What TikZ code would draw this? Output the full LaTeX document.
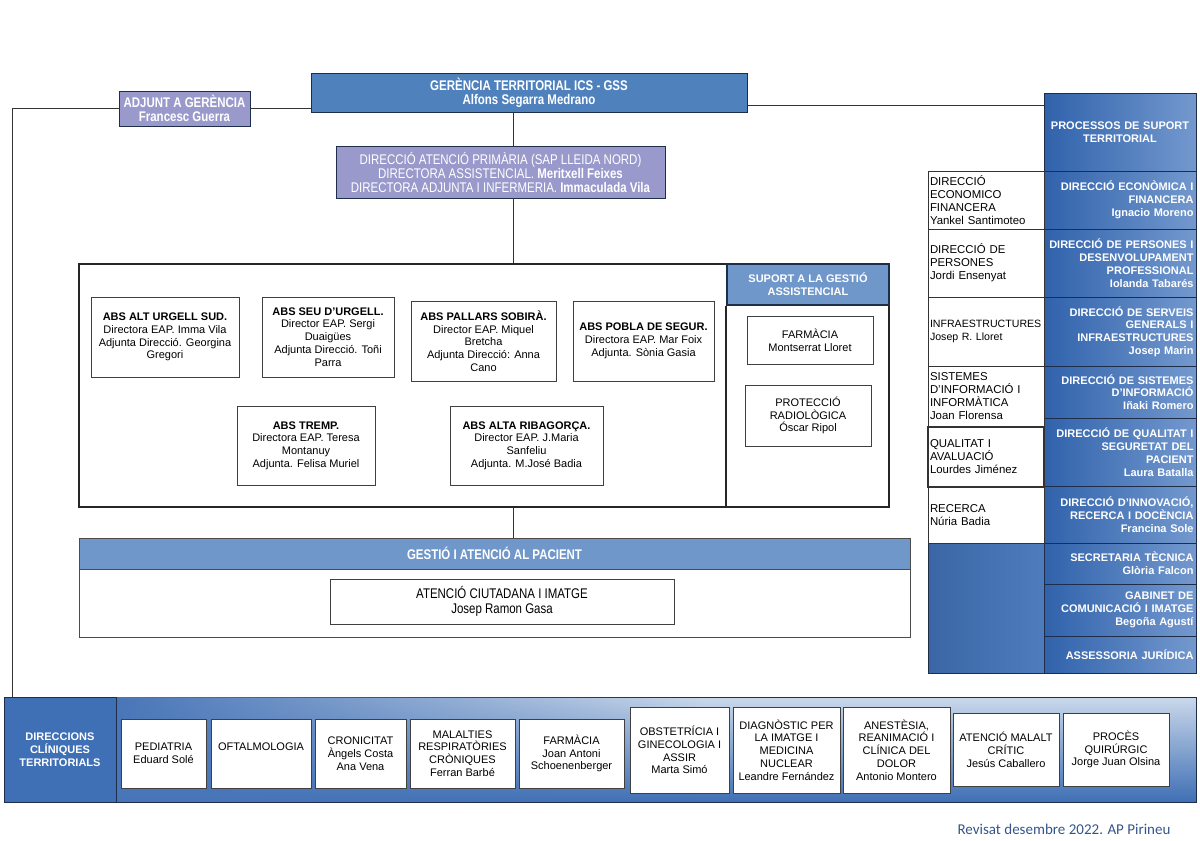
\documentclass[tikz,border=0pt]{standalone}
\usepackage{fontspec}
\setmainfont{Liberation Sans}
\newfontfamily\narrowfont[FakeStretch=0.82]{Liberation Sans}
\newfontfamily\footfont{Carlito}
\usetikzlibrary{fadings}
\definecolor{gerblue}{HTML}{4F81BD}
\definecolor{lilac}{HTML}{9999CC}
\definecolor{midblue}{HTML}{6F97CA}
\definecolor{navy}{HTML}{1E2D4A}
\definecolor{deepblue}{HTML}{3F6FB4}
\definecolor{colblue}{HTML}{3062AB}
\definecolor{sheen}{HTML}{7FA2D4}
\definecolor{bandtop}{HTML}{CAD8EB}
\definecolor{footblue}{HTML}{34558A}
\tikzset{
  head/.style={draw=navy,fill=gerblue,text=white,font=\narrowfont\bfseries\fontsize{14}{14}\selectfont},
  adjbox/.style={draw=navy,fill=lilac,text=white,font=\narrowfont\fontsize{14}{14}\selectfont},
  unit/.style={draw=black!75,fill=white,line width=0.7pt},
  tab/.style={draw=navy,fill=midblue,text=white,font=\bfseries\fontsize{11}{12.8}\selectfont},
  procrow/.style={draw=navy,text=white,align=right,text width=147pt,inner sep=2.5pt,minimum width=152pt,font=\bfseries\fontsize{11}{12.8}\selectfont},
  lcol/.style={draw=black!80,fill=white,align=left,text width=112pt,minimum width=116pt,font=\fontsize{11.4}{13}\selectfont},
  link/.style={draw=black!80,line width=0.8pt}
}

\begin{document}
\begin{tikzpicture}[x=1pt,y=-1pt,
  every node/.style={inner sep=2pt,align=center,font=\fontsize{11}{12.8}\selectfont}]
\useasboundingbox (0,0) rectangle (1200,841);

% top of the chart
\node (ger) at (529,92.5) [head,minimum width=436pt,minimum height=39pt] {GERÈNCIA TERRITORIAL ICS - GSS\\Alfons Segarra Medrano};
\node (adj) at (184.5,108.5) [adjbox,minimum width=131pt,minimum height=35pt] {\bfseries ADJUNT A GERÈNCIA\\\bfseries Francesc Guerra};
\node (dap) at (500.5,172) [adjbox,minimum width=329pt,minimum height=52pt] {DIRECCIÓ ATENCIÓ PRIMÀRIA (SAP LLEIDA NORD)\\
  DIRECTORA ASSISTENCIAL. \textbf{Meritxell Feixes}\\
  DIRECTORA ADJUNTA I INFERMERIA. \textbf{Immaculada Vila}};

% equips d'atencio primaria
\node (absarea) at (484,385.5) [draw=black!85,line width=1.6pt,minimum width=810pt,minimum height=243pt] {};
\node (sup) at (808,284.5) [tab,line width=1.6pt,minimum width=162pt,minimum height=41pt] {SUPORT A LA GESTIÓ\\ASSISTENCIAL};
\draw[line width=1.6pt,black!85] (sup.south west) -- (sup.south west |- absarea.south);
\node (alt) at (165,337) [unit,minimum width=148pt,minimum height=80pt] {\textbf{ABS ALT URGELL SUD.}\\Directora EAP. Imma Vila\\Adjunta Direcció. Georgina\\Gregori};
\node (seu) at (328,337) [unit,minimum width=132pt,minimum height=80pt] {\textbf{ABS SEU D'URGELL.}\\Director EAP. Sergi\\Duaigües\\Adjunta Direcció. Toñi\\Parra};
\node (pal) at (483.5,341) [unit,minimum width=145pt,minimum height=80pt] {\textbf{ABS PALLARS SOBIRÀ.}\\Director EAP. Miquel\\Bretcha\\Adjunta Direcció: Anna\\Cano};
\node (pob) at (643.5,341) [unit,minimum width=141pt,minimum height=80pt] {\textbf{ABS POBLA DE SEGUR.}\\Directora EAP. Mar Foix\\Adjunta. Sònia Gasia};
\node (tre) at (306,445.5) [unit,minimum width=138pt,minimum height=79pt] {\textbf{ABS TREMP.}\\Directora EAP. Teresa\\Montanuy\\Adjunta. Felisa Muriel};
\node (rib) at (526.5,445.5) [unit,minimum width=153pt,minimum height=79pt] {\textbf{ABS ALTA RIBAGORÇA.}\\Director EAP. J.Maria\\Sanfeliu\\Adjunta. M.José Badia};
\node (far) at (810,340) [unit,minimum width=126pt,minimum height=48pt] {FARMÀCIA\\Montserrat Lloret};
\node (pro) at (808,415.5) [unit,minimum width=126pt,minimum height=61pt] {PROTECCIÓ\\RADIOLÒGICA\\Óscar Ripol};

% gestio i atencio al pacient
\node (gbody) at (494.5,587.5) [draw=black!70,minimum width=831pt,minimum height=99pt] {};
\node (gest) at (494.5,553.5) [draw=black!70,fill=midblue,text=white,minimum width=831pt,minimum height=31pt,font=\narrowfont\bfseries\fontsize{14}{14}\selectfont] {GESTIÓ I ATENCIÓ AL PACIENT};
\node (aci) at (502,601.5) [unit,minimum width=344pt,minimum height=45pt,font=\narrowfont\fontsize{14}{15}\selectfont] {ATENCIÓ CIUTADANA I IMATGE\\Josep Ramon Gasa};

% processos de suport
\shade[left color=colblue,right color=sheen!85!colblue] (1044,93) rectangle (1196,673);
\shade[left color=deepblue!92!black,right color=deepblue!75!sheen] (928,543) rectangle (1044,673);
\draw[navy,line width=0.8pt] (928,543) rectangle (1044,673);
\node (proc) at (1120,132) [procrow,align=center,minimum height=78pt] {PROCESSOS DE SUPORT\\TERRITORIAL};
\node (dec) at (1120,200) [procrow,minimum height=58pt] {DIRECCIÓ ECONÒMICA I\\FINANCERA\\Ignacio Moreno};
\node (dpe) at (1120,263) [procrow,minimum height=68pt] {DIRECCIÓ DE PERSONES I\\DESENVOLUPAMENT\\PROFESSIONAL\\Iolanda Tabarés};
\node (dse) at (1120,331.5) [procrow,minimum height=69pt] {DIRECCIÓ DE SERVEIS\\GENERALS I\\INFRAESTRUCTURES\\Josep Marin};
\node (dsi) at (1120,392) [procrow,minimum height=52pt] {DIRECCIÓ DE SISTEMES\\D'INFORMACIÓ\\Iñaki Romero};
\node (dqu) at (1120,452) [procrow,minimum height=68pt] {DIRECCIÓ DE QUALITAT I\\SEGURETAT DEL\\PACIENT\\Laura Batalla};
\node (din) at (1120,514.5) [procrow,minimum height=57pt] {DIRECCIÓ D'INNOVACIÓ,\\RECERCA I DOCÈNCIA\\Francina Sole};
\node (sec) at (1120,563.5) [procrow,minimum height=41pt] {SECRETARIA TÈCNICA\\Glòria Falcon};
\node (gab) at (1120,610) [procrow,minimum height=52pt] {GABINET DE\\COMUNICACIÓ I IMATGE\\Begoña Agustí};
\node (ass) at (1120,654.5) [procrow,minimum height=37pt] {ASSESSORIA JURÍDICA};

\node (lec) at (986,200) [lcol,minimum height=58pt] {DIRECCIÓ\\ECONOMICO\\FINANCERA\\Yankel Santimoteo};
\node (lpe) at (986,263) [lcol,minimum height=68pt] {DIRECCIÓ DE\\PERSONES\\Jordi Ensenyat};
\node (lin) at (986,331.5) [lcol,minimum height=69pt,font=\fontsize{10.6}{13}\selectfont] {INFRAESTRUCTURES\\Josep R. Lloret};
\node (lsi) at (986,396.5) [lcol,minimum height=61pt] {SISTEMES\\D'INFORMACIÓ I\\INFORMÀTICA\\Joan Florensa};
\node (lqu) at (986,457) [lcol,line width=1.4pt,minimum height=60pt] {QUALITAT I\\AVALUACIÓ\\Lourdes Jiménez};
\node (lre) at (986,515) [lcol,minimum height=56pt] {RECERCA\\Núria Badia};

% direccions cliniques
\node (band) at (600,749.5) [draw=navy,line width=0.8pt,top color=bandtop,bottom color=deepblue,minimum width=1192pt,minimum height=105pt] {};
\fill[deepblue!95!white,path fading=east] (116,697) rectangle (700,802);
\node (dct) at (60,749.5) [draw=navy,line width=0.8pt,fill=deepblue,text=white,minimum width=112pt,minimum height=105pt,font=\bfseries\fontsize{11}{12.8}\selectfont] {DIRECCIONS\\CLÍNIQUES\\TERRITORIALS};
\node (ped) at (163.5,753.5) [unit,minimum width=85pt,minimum height=69pt] {PEDIATRIA\\Eduard Solé};
\node (oft) at (261,753.5) [unit,minimum width=100pt,minimum height=69pt] {OFTALMOLOGIA\\\mbox{}};
\node (cro) at (360.5,753.5) [unit,minimum width=91pt,minimum height=69pt] {CRONICITAT\\Àngels Costa\\Ana Vena};
\node (mal) at (462.5,753.5) [unit,minimum width=105pt,minimum height=69pt] {MALALTIES\\RESPIRATÒRIES\\CRÒNIQUES\\Ferran Barbé};
\node (bfa) at (571.5,753.5) [unit,minimum width=105pt,minimum height=69pt] {FARMÀCIA\\Joan Antoni\\Schoenenberger};
\node (obs) at (679.5,750) [unit,minimum width=99pt,minimum height=86pt] {OBSTETRÍCIA I\\GINECOLOGIA I\\ASSIR\\Marta Simó};
\node (dia) at (786.5,750) [unit,minimum width=107pt,minimum height=86pt] {DIAGNÒSTIC PER\\LA IMATGE I\\MEDICINA\\NUCLEAR\\Leandre Fernández};
\node (ane) at (896.5,750) [unit,minimum width=107pt,minimum height=86pt] {ANESTÈSIA,\\REANIMACIÓ I\\CLÍNICA DEL\\DOLOR\\Antonio Montero};
\node (amc) at (1006,749.5) [unit,minimum width=106pt,minimum height=73pt] {ATENCIÓ MALALT\\CRÍTIC\\Jesús Caballero};
\node (pq) at (1116,749.5) [unit,minimum width=106pt,minimum height=73pt] {PROCÈS\\QUIRÚRGIC\\Jorge Juan Olsina};

\node (rev) at (1064,829) [text=footblue,font=\footfont\fontsize{15}{17}\selectfont] {Revisat desembre 2022. AP Pirineu};

% connectors
\coordinate (spine) at (513,0);
\coordinate (gtap) at (747,105);
\coordinate (ltap) at (12,697);
\draw[link] (adj.east) -- (adj.east -| ger.west);
\draw[link] (adj.west) -| (ltap);
\draw[link] (gtap) -- (gtap -| proc.west);
\draw[link] (spine |- ger.south) -- (spine |- dap.north);
\draw[link] (spine |- dap.south) -- (spine |- absarea.north);
\draw[link] (spine |- absarea.south) -- (spine |- gest.north);
\end{tikzpicture}
\end{document}
